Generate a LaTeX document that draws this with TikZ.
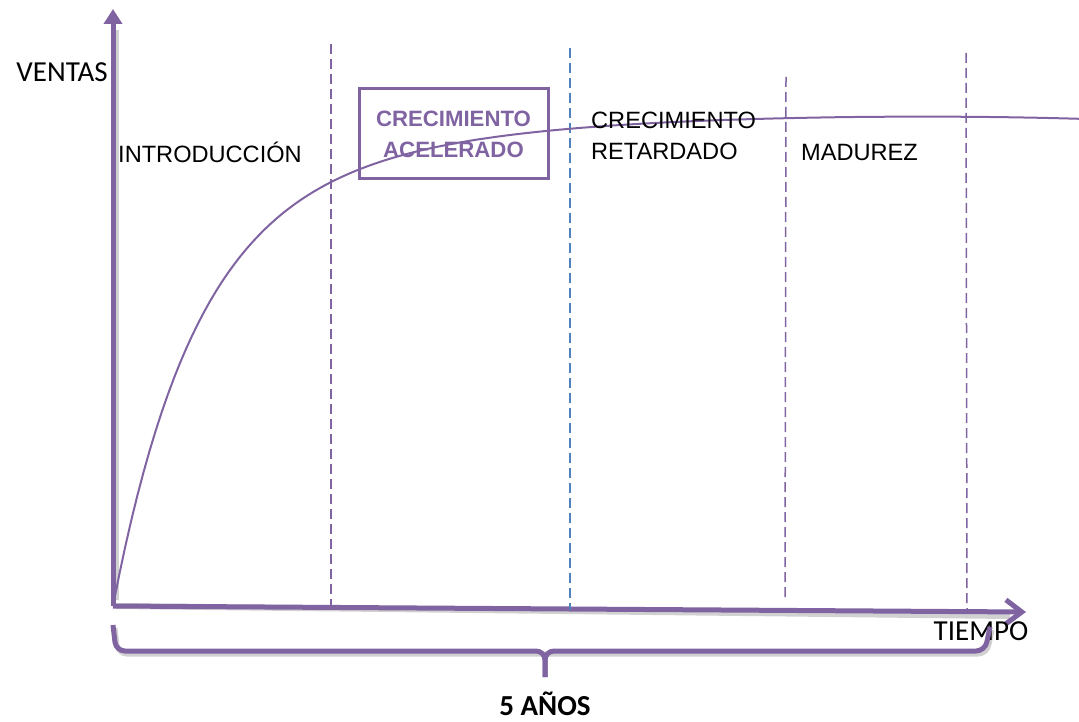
\documentclass[tikz,border=0pt]{standalone}
\usepackage{fontspec}
\setmainfont{Liberation Sans}
\newfontfamily\calibri{Carlito}
\usetikzlibrary{arrows.meta,positioning}
\definecolor{lila}{HTML}{8064A2}
\definecolor{azul}{HTML}{4F81BD}

\begin{document}
\begin{tikzpicture}[x=1pt, y=-1pt,
    eje/.style={lila, line width=5pt},
    sombra/.style={black, opacity=0.18, line width=6pt},
    corte/.style={lila, line width=1.5pt, dash pattern=on 10pt off 5pt},
    fase/.style={anchor=west, inner sep=0pt, align=left, font=\fontsize{23.6}{31}\selectfont},
    etiqueta/.style={inner sep=0pt, font=\calibri\fontsize{29}{32}\selectfont}]
  \useasboundingbox (0,0) rectangle (1079,722);

  % ejes
  \coordinate (o) at (113,606);
  \coordinate (ytip) at (113,9);
  \coordinate (xtip) at (1026,612);
  \draw[sombra] (116,606) -- (1010,616);
  \draw[sombra] (116,600) -- (116,30);
  \draw[eje, -{Triangle[length=15pt,width=18pt]}] (o) -- (ytip);
  \draw[eje, -{Straight Barb[length=16pt,width=24pt]}] (o) -- (xtip);

  % cortes entre fases
  \coordinate (c1a) at (331,44);  \coordinate (c1b) at (331,607);
  \coordinate (c2a) at (570,48);  \coordinate (c2b) at (570,610);
  \coordinate (c3a) at (786,77);  \coordinate (c3b) at (785,598);
  \coordinate (c4a) at (966,53);  \coordinate (c4b) at (967,610);
  \draw[corte] (c1a) -- (c1b);
  \draw[corte, azul] (c2a) -- (c2b);
  \draw[corte] (c3a) -- (c3b);
  \draw[corte] (c4a) -- (c4b);

  % curva de ventas
  \draw[lila, line width=2pt] plot[domain=113:1079, samples=160]
    (\x, {606-375*(1-exp(-(\x-113)/80))-120*(1-exp(-(\x-113)/230))+6*((\x-113)/966)^6});

  % fases
  \node[draw=lila, line width=3pt, minimum width=189pt, minimum height=90pt,
        align=center, text=lila, font=\bfseries\fontsize{22.2}{31}\selectfont]
        (acel) at (453.5,134) {CRECIMIENTO\\ACELERADO};
  \node[fase] (intro) at (118,152) {INTRODUCCIÓN};
  \node[fase] (retar) at (591,136) {CRECIMIENTO\\RETARDADO};
  \node[fase] (madur) at (801,152) {MADUREZ};

  \node[etiqueta, anchor=east] (ventas) at (108,72) {VENTAS};
  \node[etiqueta] (tiempo) at (981,631) {TIEMPO};

  % llave de 5 años
  \coordinate (l1) at (113,625);
  \coordinate (lm) at (545,677);
  \coordinate (l2) at (990,627);
  \draw[sombra, line width=5pt, rounded corners=9pt, transform canvas={shift={(2pt,-3pt)}}]
    (l1) -- (116,651) -- (985,651) -- (l2);
  \draw[lila, line width=5pt, rounded corners=9pt] (l1) -- (116,651) -- (545,651) -- (lm);
  \draw[lila, line width=5pt, rounded corners=9pt] (lm) -- (545,651) -- (985,651) -- (l2);
  \node[etiqueta, font=\calibri\bfseries\fontsize{29}{32}\selectfont,
        below=38pt of lm, anchor=base] (anos) {5 AÑOS};
\end{tikzpicture}
\end{document}
